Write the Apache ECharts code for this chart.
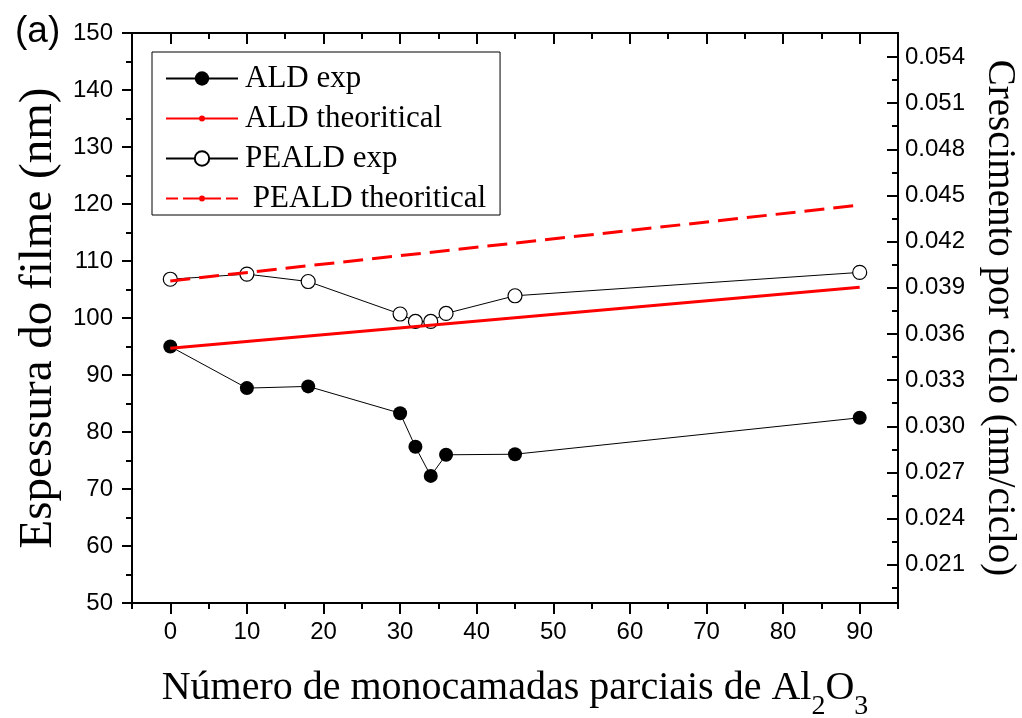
<!DOCTYPE html>
<html><head><meta charset="utf-8">
<script src="https://cdn.jsdelivr.net/npm/echarts@6/dist/echarts.min.js"></script>
<style>html,body{margin:0;padding:0;background:#fff}#c{width:1022px;height:718px}</style>
</head><body><div id="c"></div>
<script>
// ---- data ----
const layers = [0, 10, 18, 30, 32, 34, 36, 45, 90];
const aldExp = [95.0, 87.7, 88.0, 83.3, 77.4, 72.3, 76.0, 76.1, 82.5];
const pealdExp = [106.8, 107.7, 106.4, 100.7, 99.4, 99.4, 100.8, 103.9, 108.0];
const theoX = [0, 90];
const aldTheo = [94.7, 105.4];
const pealdTheo = [106.5, 119.8];

// ---- tick labels ----
const xMajorTicks = [0, 10, 20, 30, 40, 50, 60, 70, 80, 90];
const xMinorTicks = [-5, 5, 15, 25, 35, 45, 55, 65, 75, 85, 95];
const rightMajor = [0.021, 0.024, 0.027, 0.030, 0.033, 0.036, 0.039, 0.042, 0.045, 0.048, 0.051, 0.054];
const rightMinor = [0.0195, 0.0225, 0.0255, 0.0285, 0.0315, 0.0345, 0.0375, 0.0405, 0.0435, 0.0465, 0.0495, 0.0525];
const cyclesTotal = 2700; // right axis = thickness / cycles

const seriesNames = ['ALD exp', 'ALD theoritical', 'PEALD exp', ' PEALD theoritical'];

const pair = (xs, ys) => xs.map((x, i) => [x, ys[i]]);

const SANS = 'Liberation Sans';
const SERIF = 'Liberation Serif';
const tickFont = {fontFamily: SANS, fontSize: 24, color: '#000'};

const xRange = {min: -5, max: 95};
const rMin = 50 / cyclesTotal, rMax = 150 / cyclesTotal;

const solidIcon = 'path://M0,2 L72,2 L72,4 L0,4 Z M33,3 A3,3 0 1,1 39,3 A3,3 0 1,1 33,3 Z';
const dashIcon = 'path://M0,2 L12,2 L12,4 L0,4 Z M17,2 L33,2 L33,4 L17,4 Z M39,2 L55,2 L55,4 L39,4 Z M60,2 L72,2 L72,4 L60,4 Z M33,3 A3,3 0 1,1 39,3 A3,3 0 1,1 33,3 Z';

const chart = echarts.init(document.getElementById('c'), null, {renderer: 'canvas'});
chart.setOption({
  animation: false,
  backgroundColor: '#fff',
  title: {text: '(a)', left: 10, top: 8, textStyle: {fontFamily: SANS, fontSize: 37, fontWeight: 'normal', color: '#000'}},
  grid: {left: 132, right: 124, top: 33, bottom: 115, containLabel: false, outerBoundsMode: 'none'},
  legend: {
    orient: 'vertical', left: 152, top: 52,
    padding: [11, 14, 1, 13],
    borderColor: '#000', borderWidth: 1,
    itemWidth: 72, itemHeight: 18, itemGap: 9,
    symbolKeepAspect: true,
    textStyle: {fontFamily: SERIF, fontSize: 31, color: '#000', lineHeight: 30, padding: [0, 0, 0, 2]},
    data: [
      {name: seriesNames[0]},
      {name: seriesNames[1], icon: solidIcon, itemStyle: {color: '#ff0000', borderWidth: 0}},
      {name: seriesNames[2]},
      {name: seriesNames[3], icon: dashIcon, itemStyle: {color: '#ff0000', borderWidth: 0}}
    ]
  },
  xAxis: [
    { type: 'value', position: 'bottom', ...xRange,
      axisLine: {show: true, onZero: false, lineStyle: {color: '#000', width: 2}},
      axisTick: {show: true, customValues: xMinorTicks, length: 6, lineStyle: {color: '#000', width: 2}},
      axisLabel: {show: true, customValues: xMajorTicks, margin: 17, ...tickFont},
      splitLine: {show: false},
      name: 'Número de monocamadas parciais de Al{sub|2}O{sub|3}',
      nameLocation: 'middle', nameGap: 63,
      nameTextStyle: {fontFamily: SERIF, fontSize: 40, color: '#000', lineHeight: 44,
        rich: {sub: {fontFamily: SERIF, fontSize: 28, lineHeight: 28, padding: [38, 0, 0, 0], color: '#000'}}}
    },
    { type: 'value', position: 'bottom', ...xRange,
      axisLine: {show: false, onZero: false},
      axisTick: {show: true, customValues: xMajorTicks, length: 11, lineStyle: {color: '#000', width: 2}},
      axisLabel: {show: false}, splitLine: {show: false}
    },
    { type: 'value', position: 'top', ...xRange,
      axisLine: {show: true, onZero: false, lineStyle: {color: '#000', width: 2}},
      axisTick: {show: true, inside: true, customValues: xMinorTicks, length: 6, lineStyle: {color: '#000', width: 2}},
      axisLabel: {show: false}, splitLine: {show: false}
    },
    { type: 'value', position: 'top', ...xRange,
      axisLine: {show: false, onZero: false},
      axisTick: {show: true, inside: true, customValues: xMajorTicks, length: 11, lineStyle: {color: '#000', width: 2}},
      axisLabel: {show: false}, splitLine: {show: false}
    }
  ],
  yAxis: [
    { type: 'value', position: 'left', min: 50, max: 150, interval: 10,
      axisLine: {show: true, onZero: false, lineStyle: {color: '#000', width: 2}},
      axisTick: {show: true, length: 10, lineStyle: {color: '#000', width: 2}},
      minorTick: {show: true, splitNumber: 2, length: 6, lineStyle: {color: '#000', width: 2}},
      axisLabel: {margin: 19, ...tickFont},
      splitLine: {show: false}, minorSplitLine: {show: false},
      name: 'Espessura do filme (nm)', nameLocation: 'middle', nameRotate: 90, nameGap: 66,
      nameTextStyle: {fontFamily: SERIF, fontSize: 47, color: '#000'}
    },
    { type: 'value', position: 'right', min: rMin, max: rMax,
      axisLine: {show: true, onZero: false, lineStyle: {color: '#000', width: 2}},
      axisTick: {show: true, inside: true, customValues: rightMinor, length: 6, lineStyle: {color: '#000', width: 2}},
      axisLabel: {show: true, customValues: rightMajor, margin: 7, formatter: v => v.toFixed(3), ...tickFont},
      splitLine: {show: false},
      name: 'Crescimento por ciclo (nm/ciclo)', nameLocation: 'middle', nameRotate: -90, nameGap: 82,
      nameTextStyle: {fontFamily: SERIF, fontSize: 39, color: '#000'}
    },
    { type: 'value', position: 'right', min: rMin, max: rMax,
      axisLine: {show: false, onZero: false},
      axisTick: {show: true, inside: true, customValues: rightMajor, length: 11, lineStyle: {color: '#000', width: 2}},
      axisLabel: {show: false}, splitLine: {show: false}
    }
  ],
  series: [
    { name: seriesNames[0], type: 'line', xAxisIndex: 0, yAxisIndex: 0, z: 2,
      data: pair(layers, aldExp),
      symbol: 'circle', symbolSize: 14,
      lineStyle: {color: '#000', width: 1},
      itemStyle: {color: '#000'}
    },
    { name: seriesNames[2], type: 'line', xAxisIndex: 0, yAxisIndex: 0, z: 2,
      data: pair(layers, pealdExp),
      symbol: 'circle', symbolSize: 14,
      lineStyle: {color: '#000', width: 1},
      itemStyle: {color: '#fff', borderColor: '#000', borderWidth: 1.2}
    },
    { name: seriesNames[1], type: 'line', xAxisIndex: 0, yAxisIndex: 0, z: 3,
      data: pair(theoX, aldTheo),
      symbol: 'none',
      lineStyle: {color: '#ff0000', width: 3},
      itemStyle: {color: '#ff0000'}
    },
    { name: seriesNames[3], type: 'line', xAxisIndex: 0, yAxisIndex: 0, z: 3,
      data: pair(theoX, pealdTheo),
      symbol: 'none',
      lineStyle: {color: '#ff0000', width: 3, type: [20, 9]},
      itemStyle: {color: '#ff0000'}
    }
  ]
});
</script>
</body></html>
